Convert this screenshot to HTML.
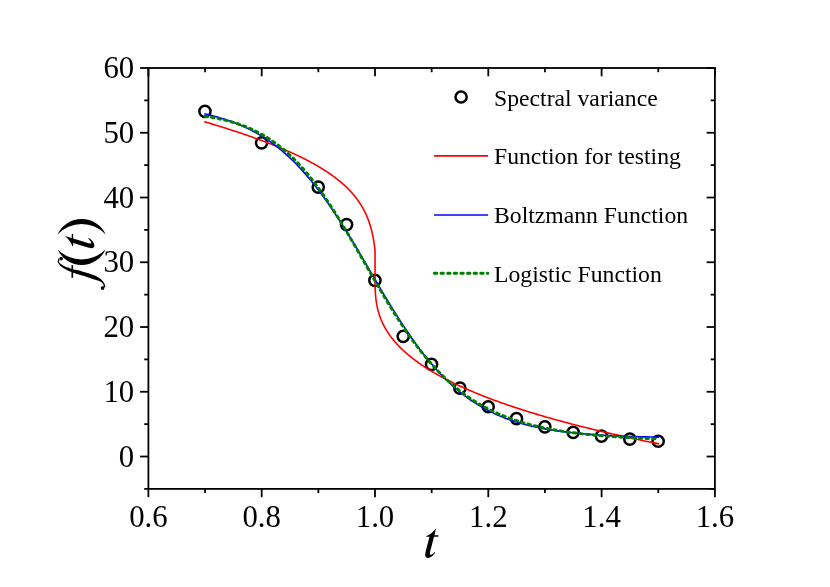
<!DOCTYPE html>
<html><head><meta charset="utf-8"><title>chart</title>
<style>html,body{margin:0;padding:0;background:#fff;}body{width:830px;height:587px;position:relative;overflow:hidden;font-family:"Liberation Serif",serif;}</style>
</head><body>
<svg width="830" height="587" viewBox="0 0 830 587" style="position:absolute;left:0;top:0;will-change:transform">
<rect width="830" height="587" fill="#fff"/>
<g stroke="#000" stroke-width="1.8" fill="none" stroke-linecap="butt">
<rect x="148.4" y="68.0" width="566.50" height="420.90"/>
<path d="M144.20,488.90H148.40"/>
<path d="M710.70,488.90H714.90"/>
<path d="M140.10,456.52H148.40"/>
<path d="M706.60,456.52H714.90"/>
<path d="M144.20,424.15H148.40"/>
<path d="M710.70,424.15H714.90"/>
<path d="M140.10,391.77H148.40"/>
<path d="M706.60,391.77H714.90"/>
<path d="M144.20,359.39H148.40"/>
<path d="M710.70,359.39H714.90"/>
<path d="M140.10,327.02H148.40"/>
<path d="M706.60,327.02H714.90"/>
<path d="M144.20,294.64H148.40"/>
<path d="M710.70,294.64H714.90"/>
<path d="M140.10,262.26H148.40"/>
<path d="M706.60,262.26H714.90"/>
<path d="M144.20,229.88H148.40"/>
<path d="M710.70,229.88H714.90"/>
<path d="M140.10,197.51H148.40"/>
<path d="M706.60,197.51H714.90"/>
<path d="M144.20,165.13H148.40"/>
<path d="M710.70,165.13H714.90"/>
<path d="M140.10,132.75H148.40"/>
<path d="M706.60,132.75H714.90"/>
<path d="M144.20,100.38H148.40"/>
<path d="M710.70,100.38H714.90"/>
<path d="M140.10,68.00H148.40"/>
<path d="M706.60,68.00H714.90"/>
<path d="M148.40,488.90V497.20"/>
<path d="M148.40,68.00V76.30"/>
<path d="M205.05,488.90V493.10"/>
<path d="M205.05,68.00V72.20"/>
<path d="M261.70,488.90V497.20"/>
<path d="M261.70,68.00V76.30"/>
<path d="M318.35,488.90V493.10"/>
<path d="M318.35,68.00V72.20"/>
<path d="M375.00,488.90V497.20"/>
<path d="M375.00,68.00V76.30"/>
<path d="M431.65,488.90V493.10"/>
<path d="M431.65,68.00V72.20"/>
<path d="M488.30,488.90V497.20"/>
<path d="M488.30,68.00V76.30"/>
<path d="M544.95,488.90V493.10"/>
<path d="M544.95,68.00V72.20"/>
<path d="M601.60,488.90V497.20"/>
<path d="M601.60,68.00V76.30"/>
<path d="M658.25,488.90V493.10"/>
<path d="M658.25,68.00V72.20"/>
<path d="M714.90,488.90V497.20"/>
<path d="M714.90,68.00V76.30"/>
</g>
<g font-family="Liberation Serif, serif" font-size="30.8" fill="#000">
<text x="134.2" y="466.72" text-anchor="end">0</text>
<text x="134.2" y="401.97" text-anchor="end">10</text>
<text x="134.2" y="337.22" text-anchor="end">20</text>
<text x="134.2" y="272.46" text-anchor="end">30</text>
<text x="134.2" y="207.71" text-anchor="end">40</text>
<text x="134.2" y="142.95" text-anchor="end">50</text>
<text x="134.2" y="78.20" text-anchor="end">60</text>
<text x="148.40" y="527.1" text-anchor="middle">0.6</text>
<text x="261.70" y="527.1" text-anchor="middle">0.8</text>
<text x="375.00" y="527.1" text-anchor="middle">1.0</text>
<text x="488.30" y="527.1" text-anchor="middle">1.2</text>
<text x="601.60" y="527.1" text-anchor="middle">1.4</text>
<text x="714.90" y="527.1" text-anchor="middle">1.6</text>
</g>
<g fill="#000" stroke="none">
<path d="M57.50,234.50A26.56,26.56 0 0 1 105.80,234.50A33.24,33.24 0 0 0 57.50,234.50Z"/>
<path d="M57.70,249.50A26.21,26.21 0 0 0 105.50,249.50A33.80,33.80 0 0 1 57.70,249.50Z"/>
<path d="M58.90,258.00C58.53,259.07 57.82,259.28 57.80,261.20C57.78,263.12 57.55,261.88 58.83,263.76C60.11,265.64 59.01,264.78 61.65,266.83C64.29,268.88 63.49,268.16 66.76,269.90C70.03,271.64 69.33,271.11 71.46,272.04C73.59,272.97 70.12,271.71 73.15,272.70C76.18,273.69 75.94,273.55 80.56,275.00C85.18,276.45 82.74,275.67 87.00,277.05C91.26,278.43 89.52,277.93 93.34,279.13C97.16,280.33 95.90,279.72 98.45,280.66C101.00,281.60 99.47,280.83 101.00,281.94C102.53,283.05 102.20,282.62 103.05,283.98C103.90,285.34 103.48,285.02 103.56,286.03C103.64,287.04 103.39,286.68 103.30,287.00L105.00,287.60C105.07,287.25 105.42,287.92 105.20,286.54C104.98,285.16 105.39,285.52 104.33,283.47C103.27,281.42 103.99,282.36 102.03,280.40C100.07,278.44 101.35,279.39 98.45,277.60C95.55,275.81 97.60,276.75 93.34,275.04C89.08,273.33 90.78,274.10 85.67,272.48C80.56,270.86 82.17,271.21 78.00,270.18C73.83,269.15 75.36,269.82 73.15,269.38C70.94,268.94 73.15,269.47 71.36,268.87C69.57,268.27 70.51,268.75 67.78,267.59C65.05,266.43 65.74,266.85 63.18,265.40C60.62,263.95 61.47,264.48 60.11,263.25C58.75,262.02 59.34,262.63 59.09,261.71C58.84,260.79 59.26,260.90 59.35,260.50Z"/>
<circle cx="61.13" cy="258.65" r="1.8"/>
<circle cx="102.54" cy="288.07" r="1.85"/>
<rect x="71.46" y="265.19" width="1.69" height="12.61"/>
<path transform="translate(73.5,240.3) skewY(3) translate(-73.5,-239.5) translate(93.9,248.3) rotate(-90)" d="M12.58,-29.3L11.09,-22.18H14.97V-20.76H10.64L7.21,-7.63C6.6,-5.3 6.3,-3.9 6.6,-3.2C6.9,-2.5 7.6,-2.6 8.3,-3.0C9.4,-3.6 10.5,-4.5 11.5,-5.6L11.8,-5.1C10.8,-3.4 9.6,-1.9 8.2,-0.9C6.9,0.1 5.6,0.5 4.4,0.4C2.9,0.3 1.7,-0.9 1.8,-2.6C1.85,-3.6 2.2,-5.4 2.69,-7.63L6.1,-20.76H3.0L2.75,-21.5C5.0,-22.2 6.6,-23.2 8.2,-24.6C10.1,-26.0 11.4,-27.6 12.58,-29.3Z"/>
<path transform="translate(423.4,557.5)" d="M12.58,-29.3L11.09,-22.18H14.97V-20.76H10.64L7.21,-7.63C6.6,-5.3 6.3,-3.9 6.6,-3.2C6.9,-2.5 7.6,-2.6 8.3,-3.0C9.4,-3.6 10.5,-4.5 11.5,-5.6L11.8,-5.1C10.8,-3.4 9.6,-1.9 8.2,-0.9C6.9,0.1 5.6,0.5 4.4,0.4C2.9,0.3 1.7,-0.9 1.8,-2.6C1.85,-3.6 2.2,-5.4 2.69,-7.63L6.1,-20.76H3.0L2.75,-21.5C5.0,-22.2 6.6,-23.2 8.2,-24.6C10.1,-26.0 11.4,-27.6 12.58,-29.3Z"/>
</g>
<g fill="none" stroke="#000" stroke-width="2.5">
<circle cx="204.95" cy="111.30" r="5.6"/>
<circle cx="261.60" cy="142.80" r="5.6"/>
<circle cx="318.25" cy="187.10" r="5.6"/>
<circle cx="346.57" cy="224.60" r="5.6"/>
<circle cx="374.90" cy="280.40" r="5.6"/>
<circle cx="403.23" cy="336.30" r="5.6"/>
<circle cx="431.55" cy="364.40" r="5.6"/>
<circle cx="459.88" cy="388.20" r="5.6"/>
<circle cx="488.20" cy="406.75" r="5.6"/>
<circle cx="516.52" cy="418.70" r="5.6"/>
<circle cx="544.85" cy="426.85" r="5.6"/>
<circle cx="573.18" cy="432.30" r="5.6"/>
<circle cx="601.50" cy="436.10" r="5.6"/>
<circle cx="629.82" cy="439.10" r="5.6"/>
<circle cx="658.15" cy="441.25" r="5.6"/>
<circle cx="461.1" cy="97.0" r="5.6"/>
</g>
<path d="M205.05,121.89 L207.01,122.48 L208.96,123.06 L210.90,123.64 L212.83,124.23 L214.74,124.81 L216.65,125.40 L218.54,125.98 L220.42,126.57 L222.29,127.15 L224.15,127.74 L226.00,128.32 L227.83,128.91 L229.65,129.49 L231.46,130.08 L233.25,130.66 L235.04,131.25 L236.81,131.83 L238.57,132.42 L240.31,133.00 L242.05,133.59 L243.77,134.17 L245.48,134.76 L247.17,135.34 L248.85,135.93 L250.52,136.51 L252.18,137.10 L253.82,137.68 L255.45,138.26 L257.07,138.85 L258.67,139.43 L260.26,140.02 L261.84,140.60 L263.40,141.19 L264.95,141.77 L266.49,142.36 L268.01,142.94 L269.52,143.53 L271.02,144.11 L272.51,144.70 L273.98,145.28 L275.43,145.87 L276.88,146.45 L278.31,147.04 L279.72,147.62 L281.13,148.21 L282.52,148.79 L283.90,149.38 L285.26,149.96 L286.61,150.55 L287.95,151.13 L289.27,151.71 L290.58,152.30 L291.88,152.88 L293.16,153.47 L294.43,154.05 L295.69,154.64 L296.93,155.22 L298.17,155.81 L299.38,156.39 L300.59,156.98 L301.78,157.56 L302.96,158.15 L304.13,158.73 L305.28,159.32 L306.42,159.90 L307.55,160.49 L308.66,161.07 L309.77,161.66 L310.85,162.24 L311.93,162.83 L313.00,163.41 L314.05,164.00 L315.09,164.58 L316.11,165.17 L317.13,165.75 L318.13,166.33 L319.12,166.92 L320.10,167.50 L321.07,168.09 L322.02,168.67 L322.96,169.26 L323.89,169.84 L324.81,170.43 L325.72,171.01 L326.61,171.60 L327.50,172.18 L328.37,172.77 L329.23,173.35 L330.08,173.94 L330.91,174.52 L331.74,175.11 L332.56,175.69 L333.36,176.28 L334.15,176.86 L334.94,177.45 L335.71,178.03 L336.47,178.62 L337.22,179.20 L337.96,179.79 L338.69,180.37 L339.41,180.95 L340.11,181.54 L340.81,182.12 L341.50,182.71 L342.18,183.29 L342.85,183.88 L343.50,184.46 L344.15,185.05 L344.79,185.63 L345.42,186.22 L346.04,186.80 L346.65,187.39 L347.25,187.97 L347.84,188.56 L348.42,189.14 L348.99,189.73 L349.56,190.31 L350.11,190.90 L350.66,191.48 L351.20,192.07 L351.72,192.65 L352.24,193.24 L352.76,193.82 L353.26,194.41 L353.75,194.99 L354.24,195.57 L354.72,196.16 L355.19,196.74 L355.65,197.33 L356.10,197.91 L356.55,198.50 L356.99,199.08 L357.42,199.67 L357.85,200.25 L358.26,200.84 L358.67,201.42 L359.07,202.01 L359.47,202.59 L359.86,203.18 L360.24,203.76 L360.61,204.35 L360.98,204.93 L361.34,205.52 L361.69,206.10 L362.04,206.69 L362.38,207.27 L362.71,207.86 L363.04,208.44 L363.36,209.03 L363.68,209.61 L363.99,210.19 L364.29,210.78 L364.59,211.36 L364.88,211.95 L365.17,212.53 L365.45,213.12 L365.72,213.70 L365.99,214.29 L366.26,214.87 L366.52,215.46 L366.77,216.04 L367.02,216.63 L367.26,217.21 L367.50,217.80 L367.73,218.38 L367.96,218.97 L368.19,219.55 L368.41,220.14 L368.62,220.72 L368.83,221.31 L369.04,221.89 L369.24,222.48 L369.43,223.06 L369.63,223.65 L369.81,224.23 L370.00,224.81 L370.18,225.40 L370.35,225.98 L370.53,226.57 L370.69,227.15 L370.86,227.74 L371.02,228.32 L371.18,228.91 L371.33,229.49 L371.48,230.08 L371.63,230.66 L371.77,231.25 L371.91,231.83 L372.05,232.42 L372.18,233.00 L372.31,233.59 L372.44,234.17 L372.56,234.76 L372.68,235.34 L372.80,235.93 L372.92,236.51 L373.03,237.10 L373.14,237.68 L373.25,238.26 L373.35,238.85 L373.46,239.43 L373.56,240.02 L373.66,240.60 L373.75,241.19 L373.85,241.77 L373.94,242.36 L374.03,242.94 L374.11,243.53 L374.20,244.11 L374.29,244.70 L374.37,245.28 L374.45,245.87 L374.53,246.45 L374.61,247.04 L374.69,247.62 L374.77,248.21 L374.85,248.79 L374.94,249.38 L375.05,249.96 L375.05,276.88 L375.05,277.44 L375.05,278.00 L375.05,278.55 L375.05,279.11 L375.05,279.67 L375.05,280.23 L375.05,280.78 L375.06,281.34 L375.06,281.90 L375.06,282.46 L375.07,283.02 L375.07,283.57 L375.08,284.13 L375.09,284.69 L375.10,285.25 L375.11,285.81 L375.12,286.36 L375.13,286.92 L375.14,287.48 L375.16,288.04 L375.18,288.60 L375.20,289.15 L375.22,289.71 L375.24,290.27 L375.27,290.83 L375.30,291.39 L375.32,291.94 L375.36,292.50 L375.39,293.06 L375.43,293.62 L375.47,294.18 L375.51,294.73 L375.55,295.29 L375.60,295.85 L375.65,296.41 L375.70,296.97 L375.76,297.52 L375.82,298.08 L375.88,298.64 L375.94,299.20 L376.01,299.76 L376.08,300.31 L376.16,300.87 L376.24,301.43 L376.32,301.99 L376.40,302.55 L376.49,303.10 L376.59,303.66 L376.68,304.22 L376.78,304.78 L376.89,305.34 L377.00,305.89 L377.11,306.45 L377.22,307.01 L377.35,307.57 L377.47,308.12 L377.60,308.68 L377.73,309.24 L377.87,309.80 L378.01,310.36 L378.16,310.91 L378.31,311.47 L378.47,312.03 L378.63,312.59 L378.79,313.15 L378.96,313.70 L379.14,314.26 L379.32,314.82 L379.50,315.38 L379.69,315.94 L379.89,316.49 L380.09,317.05 L380.29,317.61 L380.50,318.17 L380.72,318.73 L380.94,319.28 L381.17,319.84 L381.40,320.40 L381.64,320.96 L381.88,321.52 L382.13,322.07 L382.38,322.63 L382.64,323.19 L382.91,323.75 L383.18,324.31 L383.46,324.86 L383.74,325.42 L384.03,325.98 L384.33,326.54 L384.63,327.10 L384.94,327.65 L385.25,328.21 L385.57,328.77 L385.90,329.33 L386.23,329.89 L386.57,330.44 L386.91,331.00 L387.27,331.56 L387.62,332.12 L387.99,332.67 L388.36,333.23 L388.74,333.79 L389.12,334.35 L389.51,334.91 L389.91,335.46 L390.31,336.02 L390.73,336.58 L391.14,337.14 L391.57,337.70 L392.00,338.25 L392.44,338.81 L392.89,339.37 L393.34,339.93 L393.80,340.49 L394.27,341.04 L394.75,341.60 L395.23,342.16 L395.72,342.72 L396.22,343.28 L396.72,343.83 L397.23,344.39 L397.75,344.95 L398.28,345.51 L398.81,346.07 L399.36,346.62 L399.91,347.18 L400.46,347.74 L401.03,348.30 L401.60,348.86 L402.18,349.41 L402.77,349.97 L403.37,350.53 L403.98,351.09 L404.59,351.65 L405.21,352.20 L405.84,352.76 L406.48,353.32 L407.12,353.88 L407.78,354.44 L408.44,354.99 L409.11,355.55 L409.79,356.11 L410.48,356.67 L411.17,357.23 L411.88,357.78 L412.59,358.34 L413.32,358.90 L414.05,359.46 L414.79,360.01 L415.53,360.57 L416.29,361.13 L417.06,361.69 L417.83,362.25 L418.62,362.80 L419.41,363.36 L420.21,363.92 L421.02,364.48 L421.84,365.04 L422.67,365.59 L423.51,366.15 L424.36,366.71 L425.21,367.27 L426.08,367.83 L426.96,368.38 L427.84,368.94 L428.74,369.50 L429.64,370.06 L430.56,370.62 L431.48,371.17 L432.42,371.73 L433.36,372.29 L434.31,372.85 L435.28,373.41 L436.25,373.96 L437.23,374.52 L438.23,375.08 L439.23,375.64 L440.25,376.20 L441.27,376.75 L442.30,377.31 L443.35,377.87 L444.40,378.43 L445.47,378.99 L446.54,379.54 L447.63,380.10 L448.73,380.66 L449.84,381.22 L450.95,381.78 L452.08,382.33 L453.22,382.89 L454.37,383.45 L455.54,384.01 L456.71,384.56 L457.89,385.12 L459.09,385.68 L460.30,386.24 L461.51,386.80 L462.74,387.35 L463.98,387.91 L465.23,388.47 L466.50,389.03 L467.77,389.59 L469.06,390.14 L470.36,390.70 L471.67,391.26 L472.99,391.82 L474.32,392.38 L475.67,392.93 L477.02,393.49 L478.39,394.05 L479.77,394.61 L481.17,395.17 L482.57,395.72 L483.99,396.28 L485.42,396.84 L486.87,397.40 L488.32,397.96 L489.79,398.51 L491.27,399.07 L492.77,399.63 L494.27,400.19 L495.79,400.75 L497.32,401.30 L498.87,401.86 L500.43,402.42 L502.00,402.98 L503.59,403.54 L505.18,404.09 L506.80,404.65 L508.42,405.21 L510.06,405.77 L511.71,406.33 L513.38,406.88 L515.06,407.44 L516.75,408.00 L518.46,408.56 L520.18,409.12 L521.92,409.67 L523.67,410.23 L525.43,410.79 L527.21,411.35 L529.01,411.90 L530.81,412.46 L532.64,413.02 L534.47,413.58 L536.33,414.14 L538.19,414.69 L540.07,415.25 L541.97,415.81 L543.88,416.37 L545.81,416.93 L547.75,417.48 L549.71,418.04 L551.69,418.60 L553.68,419.16 L555.68,419.72 L557.70,420.27 L559.74,420.83 L561.79,421.39 L563.86,421.95 L565.95,422.51 L568.05,423.06 L570.17,423.62 L572.30,424.18 L574.45,424.74 L576.62,425.30 L578.80,425.85 L581.00,426.41 L583.22,426.97 L585.46,427.53 L587.71,428.09 L589.98,428.64 L592.27,429.20 L594.57,429.76 L596.90,430.32 L599.24,430.88 L601.60,431.43 L603.97,431.99 L606.37,432.55 L608.78,433.11 L611.21,433.67 L613.66,434.22 L616.13,434.78 L618.62,435.34 L621.12,435.90 L623.65,436.45 L626.19,437.01 L628.75,437.57 L631.34,438.13 L633.94,438.69 L636.56,439.24 L639.20,439.80 L641.86,440.36 L644.54,440.92 L647.24,441.48 L649.96,442.03 L652.71,442.59 L655.47,443.15 L658.25,443.71" fill="none" stroke="#ff0000" stroke-width="1.6" stroke-linejoin="round" stroke-linecap="square"/>
<path d="M205.05,113.95 L207.88,114.60 L210.72,115.28 L213.55,116.01 L216.38,116.77 L219.21,117.57 L222.05,118.42 L224.88,119.31 L227.71,120.25 L230.54,121.24 L233.38,122.29 L236.21,123.38 L239.04,124.54 L241.87,125.75 L244.71,127.02 L247.54,128.36 L250.37,129.77 L253.20,131.25 L256.03,132.79 L258.87,134.42 L261.70,136.12 L264.53,137.90 L267.37,139.76 L270.20,141.71 L273.03,143.75 L275.86,145.88 L278.69,148.10 L281.53,150.41 L284.36,152.83 L287.19,155.34 L290.02,157.96 L292.86,160.67 L295.69,163.50 L298.52,166.42 L301.36,169.46 L304.19,172.60 L307.02,175.85 L309.85,179.20 L312.68,182.67 L315.52,186.23 L318.35,189.91 L321.18,193.68 L324.01,197.56 L326.85,201.54 L329.68,205.61 L332.51,209.77 L335.34,214.02 L338.18,218.35 L341.01,222.76 L343.84,227.24 L346.67,231.79 L349.51,236.40 L352.34,241.07 L355.17,245.78 L358.00,250.53 L360.84,255.32 L363.67,260.13 L366.50,264.95 L369.34,269.79 L372.17,274.62 L375.00,279.45 L377.83,284.27 L380.67,289.06 L383.50,293.82 L386.33,298.54 L389.16,303.22 L392.00,307.84 L394.83,312.40 L397.66,316.90 L400.49,321.33 L403.33,325.68 L406.16,329.95 L408.99,334.13 L411.82,338.22 L414.65,342.22 L417.49,346.12 L420.32,349.92 L423.15,353.62 L425.98,357.21 L428.82,360.70 L431.65,364.08 L434.48,367.35 L437.31,370.51 L440.15,373.57 L442.98,376.53 L445.81,379.37 L448.64,382.11 L451.48,384.75 L454.31,387.29 L457.14,389.72 L459.98,392.06 L462.81,394.31 L465.64,396.45 L468.47,398.51 L471.30,400.48 L474.14,402.37 L476.97,404.16 L479.80,405.88 L482.63,407.52 L485.47,409.09 L488.30,410.58 L491.13,412.00 L493.97,413.36 L496.80,414.65 L499.63,415.87 L502.46,417.04 L505.29,418.15 L508.13,419.20 L510.96,420.21 L513.79,421.16 L516.62,422.06 L519.46,422.92 L522.29,423.73 L525.12,424.51 L527.96,425.24 L530.79,425.93 L533.62,426.59 L536.45,427.21 L539.29,427.80 L542.12,428.36 L544.95,428.89 L547.78,429.40 L550.62,429.87 L553.45,430.32 L556.28,430.75 L559.11,431.15 L561.95,431.53 L564.78,431.89 L567.61,432.23 L570.44,432.56 L573.28,432.86 L576.11,433.15 L578.94,433.42 L581.77,433.68 L584.61,433.93 L587.44,434.16 L590.27,434.38 L593.10,434.58 L595.94,434.78 L598.77,434.96 L601.60,435.14 L604.43,435.30 L607.26,435.45 L610.10,435.60 L612.93,435.74 L615.76,435.87 L618.60,435.99 L621.43,436.11 L624.26,436.22 L627.09,436.33 L629.92,436.43 L632.76,436.52 L635.59,436.61 L638.42,436.69 L641.25,436.77 L644.09,436.84 L646.92,436.91 L649.75,436.98 L652.59,437.04 L655.42,437.10 L658.25,437.15" fill="none" stroke="#0000ff" stroke-width="1.6" stroke-linejoin="round" stroke-linecap="square"/>
<path d="M205.05,116.32 L207.88,116.75 L210.72,117.22 L213.55,117.72 L216.38,118.26 L219.21,118.83 L222.05,119.46 L224.88,120.12 L227.71,120.84 L230.54,121.60 L233.38,122.42 L236.21,123.30 L239.04,124.24 L241.87,125.24 L244.71,126.30 L247.54,127.44 L250.37,128.65 L253.20,129.94 L256.03,131.31 L258.87,132.76 L261.70,134.30 L264.53,135.93 L267.37,137.65 L270.20,139.48 L273.03,141.40 L275.86,143.43 L278.69,145.57 L281.53,147.82 L284.36,150.18 L287.19,152.66 L290.02,155.26 L292.86,157.98 L295.69,160.82 L298.52,163.79 L301.36,166.87 L304.19,170.09 L307.02,173.42 L309.85,176.88 L312.68,180.47 L315.52,184.17 L318.35,187.99 L321.18,191.93 L324.01,195.98 L326.85,200.13 L329.68,204.39 L332.51,208.75 L335.34,213.20 L338.18,217.73 L341.01,222.35 L343.84,227.03 L346.67,231.78 L349.51,236.58 L352.34,241.43 L355.17,246.32 L358.00,251.24 L360.84,256.18 L363.67,261.13 L366.50,266.08 L369.34,271.03 L372.17,275.96 L375.00,280.87 L377.83,285.74 L380.67,290.58 L383.50,295.36 L386.33,300.10 L389.16,304.76 L392.00,309.36 L394.83,313.89 L397.66,318.33 L400.49,322.69 L403.33,326.96 L406.16,331.14 L408.99,335.22 L411.82,339.20 L414.65,343.08 L417.49,346.86 L420.32,350.53 L423.15,354.09 L425.98,357.55 L428.82,360.90 L431.65,364.15 L434.48,367.29 L437.31,370.32 L440.15,373.25 L442.98,376.08 L445.81,378.80 L448.64,381.43 L451.48,383.96 L454.31,386.39 L457.14,388.73 L459.98,390.98 L462.81,393.14 L465.64,395.22 L468.47,397.21 L471.30,399.12 L474.14,400.95 L476.97,402.70 L479.80,404.38 L482.63,405.99 L485.47,407.54 L488.30,409.01 L491.13,410.43 L493.97,411.78 L496.80,413.07 L499.63,414.31 L502.46,415.49 L505.29,416.62 L508.13,417.70 L510.96,418.74 L513.79,419.73 L516.62,420.67 L519.46,421.57 L522.29,422.43 L525.12,423.26 L527.96,424.04 L530.79,424.79 L533.62,425.51 L536.45,426.20 L539.29,426.85 L542.12,427.48 L544.95,428.08 L547.78,428.65 L550.62,429.19 L553.45,429.71 L556.28,430.21 L559.11,430.69 L561.95,431.14 L564.78,431.57 L567.61,431.99 L570.44,432.38 L573.28,432.76 L576.11,433.12 L578.94,433.47 L581.77,433.80 L584.61,434.12 L587.44,434.42 L590.27,434.71 L593.10,434.98 L595.94,435.25 L598.77,435.50 L601.60,435.74 L604.43,435.97 L607.26,436.19 L610.10,436.40 L612.93,436.61 L615.76,436.80 L618.60,436.99 L621.43,437.16 L624.26,437.33 L627.09,437.49 L629.92,437.65 L632.76,437.80 L635.59,437.94 L638.42,438.08 L641.25,438.21 L644.09,438.33 L646.92,438.45 L649.75,438.57 L652.59,438.68 L655.42,438.78 L658.25,438.89" fill="none" stroke="#008000" stroke-width="3.0" stroke-linecap="round" stroke-linejoin="round" stroke-dasharray="2.4 4.22"/>
<path d="M434.1,155.9H488.1" stroke="#ff0000" stroke-width="1.6"/>
<path d="M434.1,215H488.1" stroke="#0000ff" stroke-width="1.6"/>
<path d="M434.4,273.3H487.9" stroke="#008000" stroke-width="3.0" stroke-linecap="round" stroke-dasharray="2.4 4.22"/>
<g font-family="Liberation Serif, serif" font-size="23.7" fill="#000">
<text x="494.0" y="105.6">Spectral variance</text>
<text x="494.0" y="163.9">Function for testing</text>
<text x="494.0" y="222.7">Boltzmann Function</text>
<text x="494.0" y="281.7">Logistic Function</text>
</g>
</svg>
</body></html>
